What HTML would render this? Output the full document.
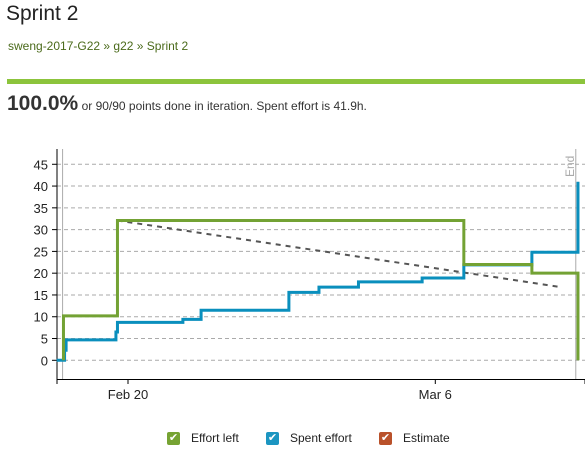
<!DOCTYPE html>
<html><head><meta charset="utf-8">
<style>
body{margin:0;width:585px;height:458px;background:#fff;font-family:"Liberation Sans",sans-serif;position:relative;overflow:hidden}
.abs{position:absolute}
</style></head><body>
<div class="abs" style="left:6px;top:2px;font-size:21px;color:#222">Sprint 2</div>
<div class="abs" style="left:8px;top:39px;font-size:12px;color:#4a6a1a"><span>sweng-2017-G22</span> » <span>g22</span> » <span>Sprint 2</span></div>
<div class="abs" style="left:7px;top:79px;width:578px;height:5px;background:#8cc43c"></div>
<div class="abs" style="left:7px;top:92px;font-size:12px;color:#333;white-space:nowrap"><b style="font-size:21px;color:#333">100.0%</b> or 90/90 points done in iteration. Spent effort is 41.9h.</div>
<svg class="abs" style="left:0;top:0" width="585" height="458">
<g id="grid"></g><g id="axes"></g><g id="series"></g>
</svg>
<div class="abs" style="left:0;top:428px;width:585px;height:20px;font-size:12px;color:#222">
<div class="abs" style="left:167px;top:3px;white-space:nowrap"><span style="display:inline-block;width:13px;height:13px;background:#76a333;border-radius:2px;color:#fff;font-size:11px;line-height:13px;text-align:center;vertical-align:middle">✔</span><span style="margin-left:11px">Effort left</span></div>
<div class="abs" style="left:266px;top:3px;white-space:nowrap"><span style="display:inline-block;width:13px;height:13px;background:#1b95c1;border-radius:2px;color:#fff;font-size:11px;line-height:13px;text-align:center;vertical-align:middle">✔</span><span style="margin-left:11px">Spent effort</span></div>
<div class="abs" style="left:379px;top:3px;white-space:nowrap"><span style="display:inline-block;width:13px;height:13px;background:#b9512a;border-radius:2px;color:#fff;font-size:11px;line-height:13px;text-align:center;vertical-align:middle">✔</span><span style="margin-left:11px">Estimate</span></div>
</div>
<script>
// days relative to Feb 20
const yTicks=[0,5,10,15,20,25,30,35,40,45];
const xTickDays=[0,14];
const xTickLabels=["Feb 20","Mar 6"];
const effortDays=[-2.94,-0.48,15.3,18.4,20.5];
const effortVals=[10.2,32.1,22,20,0];
const spentDays=[-2.89,-2.82,-0.55,-0.48,2.5,3.33,7.33,8.7,10.5,13.4,15.3,18.4,20.5];
const spentVals=[2.3,4.7,6.5,8.7,9.4,11.5,15.6,16.8,18.0,18.9,21.9,24.8,41];
const idealDays=[-0.48,19.6];
const idealVals=[32.1,16.9];
const startDay=-2.98, endDay=20.4;

const X=d=>128+d*21.95;
const Y=v=>360.3-v*4.356;
const NS="http://www.w3.org/2000/svg";
function mk(parent,tag,attrs){const e=document.createElementNS(NS,tag);for(const k in attrs)e.setAttribute(k,attrs[k]);document.getElementById(parent).appendChild(e);return e;}
yTicks.forEach(t=>{
  const l=mk('grid','line',{x1:57,x2:585,y1:Y(t),y2:Y(t),stroke:'#aaa','stroke-dasharray':'4,3','stroke-width':1});
  
  
  mk('axes','line',{x1:52,x2:57,y1:Y(t),y2:Y(t),stroke:'#000'});
  const tx=mk('axes','text',{x:48,y:Y(t)+5,'text-anchor':'end','font-size':13,fill:'#222','font-family':'Liberation Sans, sans-serif'});
  tx.textContent=t;
  
  
});
mk('axes','line',{x1:57,x2:57,y1:149,y2:379,stroke:'#000'});
mk('axes','line',{x1:57,x2:585,y1:379.5,y2:379.5,stroke:'#000'});
mk('axes','line',{x1:57,x2:57,y1:379,y2:384,stroke:'#000'});
mk('axes','line',{x1:585,x2:585,y1:379,y2:384,stroke:'#000'});
xTickDays.forEach((d,i)=>{
  mk('axes','line',{x1:X(d),x2:X(d),y1:379,y2:384,stroke:'#000'});
  const tx=mk('axes','text',{x:X(d),y:399,'text-anchor':'middle','font-size':13,fill:'#222','font-family':'Liberation Sans, sans-serif'});
  tx.textContent=xTickLabels[i];
  
  
});
const sl=mk('axes','line',{x1:X(startDay),x2:X(startDay),y1:149,y2:379,stroke:'#aaa'});


const el=mk('axes','line',{x1:X(endDay),x2:X(endDay),y1:149,y2:379,stroke:'#aaa'});


const et=mk('axes','text',{x:0,y:0,'font-size':12,fill:'#aaa','font-family':'Liberation Sans, sans-serif',transform:`translate(${X(endDay)-2},177) rotate(-90)`});
et.textContent='End';



function stepPath(days,vals,start){
  let d=`M${X(start)},${Y(0)}`;
  let prev=0;
  days.forEach((dd,i)=>{d+=` L${X(dd)},${Y(prev)} L${X(dd)},${Y(vals[i])}`;prev=vals[i];});
  return d;
}
const ideal=mk('series','line',{x1:X(idealDays[0]),y1:Y(idealVals[0]),x2:X(idealDays[1]),y2:Y(idealVals[1]),stroke:'#555','stroke-width':2,'stroke-dasharray':'5,5'});


const sp=mk('series','path',{d:stepPath(spentDays,spentVals,-3.25),fill:'none',stroke:'#0a8fbd','stroke-width':3});


let ed=`M${X(effortDays[0])},${Y(0)}`;let pv=0;
effortDays.forEach((dd,i)=>{ed+=` L${X(dd)},${Y(i?pv:0)} L${X(dd)},${Y(effortVals[i])}`;pv=effortVals[i];});
const ef=mk('series','path',{d:ed,fill:'none',stroke:'#73a234','stroke-width':3});


</script>
</body></html>
